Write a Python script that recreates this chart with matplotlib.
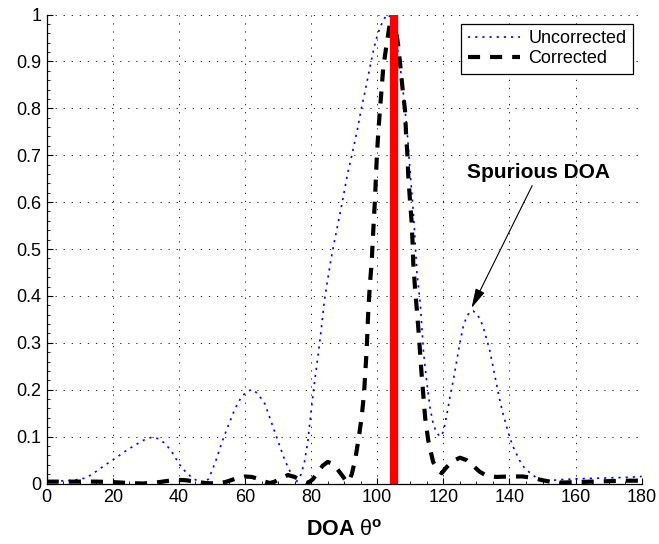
import matplotlib
matplotlib.use("Agg")
import matplotlib.pyplot as plt
from matplotlib.ticker import AutoMinorLocator, FuncFormatter

plt.rcParams['font.family'] = ['Liberation Sans', 'DejaVu Sans']
plt.rcParams['mathtext.fontset'] = 'custom'
plt.rcParams['mathtext.rm'] = 'Liberation Sans'
plt.rcParams['mathtext.it'] = 'Liberation Sans:italic'
plt.rcParams['mathtext.bf'] = 'Liberation Sans:bold'

# Beam pattern without array-error correction
theta_uncorr = [0, 3, 6, 9, 12, 15, 18, 21, 24, 27, 30, 32, 34, 36, 38, 40, 42, 44, 46, 47.5,
                49, 51, 53, 55, 57, 59, 61, 62.5, 64, 66, 68, 70, 72, 74, 75.5, 77, 78, 79, 80,
                81, 82, 83, 84, 85, 86, 87, 88, 89, 90, 91, 92, 93, 94, 95, 96, 97, 98, 99, 100,
                101, 102, 103, 104, 105, 106, 107, 108, 109, 110, 111, 112, 113, 114, 115, 116,
                117, 118, 119, 120, 121, 122, 123, 124, 125, 126, 127, 128, 129, 130, 131, 132,
                133, 134, 135, 136, 137, 138, 139, 140, 141, 142, 143, 144, 145, 146, 148, 150,
                152, 155, 160, 165, 170, 175, 180]
uncorrected = [0.005, 0.005, 0.006, 0.008, 0.012, 0.026, 0.041, 0.055, 0.07, 0.083, 0.095, 0.099,
               0.095, 0.084, 0.066, 0.042, 0.025, 0.012, 0.004, 0.001,
               0.01, 0.045, 0.088, 0.125, 0.16, 0.186, 0.198, 0.2, 0.19, 0.17, 0.13, 0.09, 0.05,
               0.02, 0.003, 0.02, 0.047, 0.09, 0.155,
               0.215, 0.268, 0.325, 0.39, 0.435, 0.478, 0.515, 0.55, 0.585, 0.622, 0.66, 0.69,
               0.722, 0.755, 0.793, 0.826, 0.86, 0.895, 0.928, 0.955,
               0.975, 0.99, 1.0, 0.995, 0.97, 0.935, 0.885, 0.825, 0.755, 0.66, 0.57, 0.45,
               0.385, 0.28, 0.215, 0.16,
               0.125, 0.108, 0.1, 0.11, 0.145, 0.185, 0.22, 0.26, 0.3, 0.334, 0.355, 0.366,
               0.368, 0.362, 0.352, 0.335,
               0.31, 0.285, 0.25, 0.215, 0.18, 0.15, 0.125, 0.1, 0.08, 0.065, 0.05, 0.038,
               0.03, 0.024, 0.013, 0.007,
               0.006, 0.008, 0.01, 0.011, 0.012, 0.013, 0.015]

# Beam pattern after correction
theta_corr = [0, 5, 10, 15, 20, 25, 29, 33, 36, 39, 42, 45, 48, 51, 54, 57, 60, 62, 64, 66,
              67.5, 69, 71, 73, 75, 77, 79, 80.5, 82, 83.5, 85, 86.5, 88, 89.5, 90.5, 91.3,
              92.3, 93.3, 94.3, 95.3, 96, 96.8, 97.3, 97.8, 98.3, 98.8, 99.3, 99.6, 99.9,
              100.3, 100.8, 101.3, 101.8, 102.8, 103.8, 104.8, 105.6, 106.4, 107.1, 107.7,
              108.4, 108.7, 109.1, 109.4, 109.9, 110.4, 110.7, 110.9, 111.4, 111.9, 112.4,
              112.9, 113.4, 113.9, 114.5, 115.4, 116.9, 118.5, 119.5, 121, 123, 125, 127, 129,
              131, 133, 136, 140, 144, 147, 150, 153, 156, 160, 165, 170, 175, 180]
corrected = [0.004, 0.004, 0.004, 0.004, 0.003, 0.001, 0.0, 0.002, 0.005, 0.008, 0.007, 0.004,
             0.001, 0.0, 0.003, 0.01, 0.015, 0.014, 0.01, 0.004,
             0.001, 0.004, 0.012, 0.018, 0.014, 0.007, 0.001, 0.009, 0.024, 0.038, 0.046,
             0.042, 0.03, 0.016, 0.006, 0.003,
             0.02, 0.05, 0.093, 0.142, 0.192, 0.285, 0.37, 0.427, 0.47, 0.54, 0.604, 0.654, 0.7,
             0.747, 0.796, 0.839, 0.885, 0.935, 0.98, 1.0, 0.97, 0.931, 0.882, 0.839,
             0.796, 0.747, 0.704, 0.654, 0.604, 0.558, 0.512, 0.469, 0.42, 0.377, 0.334,
             0.285, 0.235, 0.192, 0.14, 0.093, 0.046, 0.028, 0.022, 0.035, 0.048, 0.055, 0.05,
             0.038, 0.025, 0.017, 0.014, 0.015, 0.015, 0.012, 0.007, 0.003, 0.002, 0.003, 0.004,
             0.005, 0.006, 0.006]

# True direction of arrival
true_doa = [105, 105]
true_level = [0, 1]

x_ticks = list(range(0, 181, 20))
y_ticks = [0, 0.1, 0.2, 0.3, 0.4, 0.5, 0.6, 0.7, 0.8, 0.9, 1.0]

fig = plt.figure(figsize=(6.59, 5.44), dpi=100)
ax = fig.add_axes([0.0709, 0.1112, 0.9028, 0.8621])

ax.plot(theta_uncorr, uncorrected, color='blue', linewidth=1.2,
        linestyle=(0, (1.3, 3.0)), label='Uncorrected')
ax.plot(theta_corr, corrected, color='black', linewidth=3.0,
        linestyle=(0, (2.9, 2.4)), label='Corrected')
ax.plot(true_doa, true_level, color='red', linewidth=6.0, solid_capstyle='butt')

ax.set_xlim(0, 180)
ax.set_ylim(0, 1)
ax.set_xticks(x_ticks)
ax.set_yticks(y_ticks)
ax.yaxis.set_major_formatter(FuncFormatter(lambda v, p: '%g' % round(v, 2)))
ax.xaxis.set_minor_locator(AutoMinorLocator(4))
ax.yaxis.set_minor_locator(AutoMinorLocator(5))
ax.tick_params(which='both', direction='in', labelsize=13, top=False, right=False)
ax.tick_params(which='major', length=4, width=0.8, pad=4)
ax.tick_params(which='minor', length=2, width=0.6)

ax.grid(True, which='major', color='#222222', linewidth=0.7, linestyle=(0, (1.3, 7)))
for side in ('top', 'right'):
    ax.spines[side].set_visible(False)
for side in ('left', 'bottom'):
    ax.spines[side].set_linewidth(0.9)

ax.set_xlabel(r'$\mathbf{DOA}\ \mathrm{\theta}^{\mathbf{o}}$', fontsize=15.5, labelpad=10)

leg = ax.legend(loc='upper right', fontsize=13, handlelength=2.9, handletextpad=0.45,
                labelspacing=0.2, borderaxespad=0.5, fancybox=False, framealpha=1,
                edgecolor='black', borderpad=0.35)
leg.get_frame().set_linewidth(0.9)

ax.annotate('Spurious DOA', xy=(128.5, 0.374), xytext=(148.9, 0.664),
            ha='center', va='center', fontsize=15, fontweight='bold',
            arrowprops=dict(arrowstyle='-|>,head_length=0.8,head_width=0.2',
                            mutation_scale=15, color='black', lw=0.8,
                            shrinkA=1, shrinkB=0))

fig.savefig('out.png', dpi=100)
